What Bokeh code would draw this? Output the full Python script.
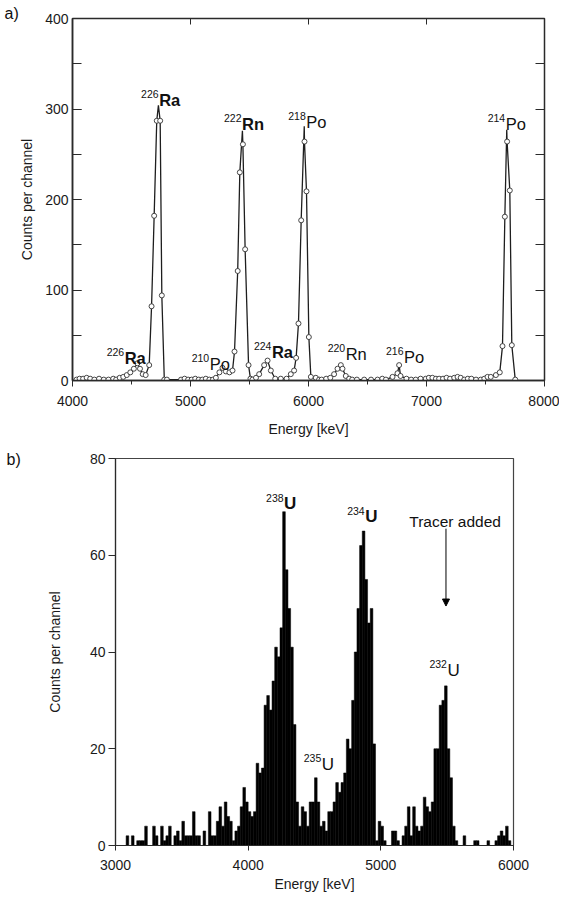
from bokeh.plotting import figure
from bokeh.layouts import column, row
from bokeh.models import (LinearAxis, Range1d, SingleIntervalTicker,
                          Arrow, NormalHead, ColumnDataSource)
from bokeh.core.properties import value
from bokeh.embed import file_html
from bokeh.resources import INLINE

FONT = "Liberation Sans"
DARK = "#2a2a2a"

# ---------------- panel a data : radon/radium alpha spectrum ----------------
a_energy = [4034, 4060, 4090, 4120, 4150, 4185, 4225, 4265, 4305, 4345,
            4370, 4400, 4430, 4460, 4490, 4520, 4550, 4572, 4595, 4620,
            4650, 4670, 4692, 4714, 4743, 4757, 4778, 4800, 4920, 4950,
            4980, 5010, 5040, 5070, 5100, 5130, 5160, 5190, 5215, 5245,
            5271, 5300, 5330, 5356, 5373, 5400, 5418, 5444, 5463, 5492,
            5508, 5525, 5555, 5582, 5624, 5653, 5681, 5718, 5765, 5814,
            5850, 5878, 5895, 5915, 5938, 5966, 5983, 6003, 6020, 6062,
            6090, 6111, 6150, 6185, 6217, 6246, 6274, 6288, 6316, 6345,
            6370, 6410, 6472, 6530, 6585, 6625, 6656, 6712, 6754, 6768,
            6780, 6830, 6870, 6909, 6950, 6994, 7020, 7050, 7080, 7107,
            7140, 7170, 7200, 7235, 7263, 7290, 7320, 7350, 7380, 7420,
            7460, 7490, 7517, 7545, 7588, 7621, 7644, 7664, 7683, 7706,
            7723, 7752]
a_counts = [1, 2, 2, 3, 2, 1, 2, 1, 1, 2,
            1, 3, 4, 6, 9, 13, 19, 13, 7, 6,
            17, 82, 182, 287, 287, 94, 1, 1, 1, 2,
            1, 1, 2, 1, 1, 2, 1, 1, 3, 9,
            14, 10, 9, 11, 32, 121, 230, 261, 145, 17,
            2, 1, 3, 7, 17, 22, 11, 2, 2, 2,
            7, 11, 25, 63, 177, 264, 209, 48, 4, 3,
            1, 1, 2, 3, 7, 13, 17, 13, 5, 2,
            1, 1, 1, 1, 1, 2, 1, 4, 8, 17,
            5, 2, 1, 1, 2, 2, 3, 3, 2, 2,
            2, 3, 2, 3, 4, 3, 1, 2, 2, 1,
            1, 2, 4, 4, 6, 9, 38, 181, 264, 210,
            39, 1]
# tips of the drawn curve over the four main peaks
a_peak_energy = [4728, 5440, 5964, 7680]
a_peak_top = [304, 276, 281, 277]

a_iso = ["226", "222", "218", "214", "226", "210", "224", "220", "216"]
a_elem = ["Ra", "Rn", "Po", "Po", "Ra", "Po", "Ra", "Rn", "Po"]
a_lab_x = [4730, 5432, 5977, 7667, 4438, 5158, 5686, 6311, 6805]
a_lab_y = [310, 283, 286, 283, 25, 18, 31, 29, 26.5]
a_lab_style = ["bold", "bold", "normal", "normal", "bold", "normal", "bold", "normal", "normal"]

# ---------------- panel b data : uranium alpha spectrum (20 keV channels) ----------------
b_bin_width = 20
b_counts = [0, 0, 0, 0, 2, 0, 2, 0, 1, 1,
            1, 4, 0, 0, 4, 2, 0, 4, 1, 2,
            4, 0, 2, 3, 1, 5, 2, 2, 2, 7,
            2, 2, 0, 3, 0, 7, 2, 2, 5, 8,
            4, 9, 6, 5, 1, 3, 4, 8, 12, 9,
            7, 6, 7, 17, 15, 16, 29, 31, 28, 34,
            41, 39, 45, 69, 57, 49, 41, 25, 9, 4,
            8, 7, 4, 9, 9, 14, 9, 4, 5, 3,
            7, 7, 9, 13, 11, 13, 15, 22, 20, 30,
            40, 49, 62, 65, 55, 46, 49, 21, 1, 5,
            4, 1, 0, 0, 3, 3, 1, 0, 2, 4,
            8, 2, 8, 4, 3, 4, 10, 8, 7, 9,
            20, 20, 29, 30, 33, 20, 14, 4, 1, 0,
            0, 2, 0, 0, 0, 1, 1, 0, 0, 0,
            1, 0, 0, 1, 2, 3, 2, 4, 1, 0]
b_bin_left = list(range(3000, 3000 + b_bin_width * len(b_counts), b_bin_width))

b_iso = ["238", "234", "235", "232"]
b_elem = ["U", "U", "U", "U"]
b_lab_x = [4267, 4878, 4551, 5498]
b_lab_y = [70.6, 68, 16.8, 36.2]
b_lab_style = ["bold", "bold", "normal", "normal"]

tracer_text = ["Tracer added"]
tracer_x = [5560]
tracer_y = [67]
arrow_x = [5491]
arrow_y0 = [65.5]
arrow_y1 = [49.5]


def style_axis(ax):
    ax.axis_line_color = DARK
    ax.major_tick_line_color = DARK
    ax.minor_tick_line_color = DARK
    ax.major_label_text_font = FONT
    ax.major_label_text_font_size = "14px"
    ax.major_label_text_color = "#1a1a1a"
    ax.axis_label_text_font = FONT
    ax.axis_label_text_font_size = "14px"
    ax.axis_label_text_font_style = "normal"
    ax.axis_label_text_color = "#1a1a1a"


def hidden_axis(ax):
    # tick marks only: labels are not drawn at all
    ax.major_label_text_font_size = "1px"
    ax.major_label_text_color = None
    ax.major_label_standoff = 0
    ax.axis_line_color = DARK
    ax.major_tick_line_color = DARK
    ax.minor_tick_line_color = None
    ax.major_tick_out = 0


def add_iso_labels(p, xs, ys, isos, elems, styles, size_el, size_iso, raise_px):
    src = ColumnDataSource(dict(x=xs, y=ys, iso=isos, el=elems, st=styles))
    p.text(x="x", y="y", text="el", source=src, text_font=value(FONT),
           text_font_size=size_el, text_font_style="st", text_align="left",
           text_baseline="alphabetic", text_color="#111111", x_offset=0.5)
    p.text(x="x", y="y", text="iso", source=src, text_font=value(FONT),
           text_font_size=size_iso, text_font_style="normal", text_align="right",
           text_baseline="alphabetic", text_color="#111111", y_offset=-raise_px)


def panel_title(p, text, offset, standoff):
    p.title.text = text
    p.title.align = "left"
    p.title.offset = offset
    try:
        p.title.standoff = standoff
    except Exception:
        p.title.standoff = 0
    p.title.text_font = FONT
    p.title.text_font_size = "16px"
    p.title.text_font_style = "normal"
    p.title.text_color = "#111111"


# ================= panel a =================
pa = figure(width=559, height=442, x_range=Range1d(4000, 8000), y_range=Range1d(0, 400),
            output_backend="svg", toolbar_location=None,
            min_border_left=72, min_border_right=15, min_border_top=18, min_border_bottom=62)
pa.xgrid.visible = False
pa.ygrid.visible = False
pa.outline_line_color = DARK
pa.outline_line_width = 1.5
panel_title(pa, "a)", -68, -6)

xa = pa.xaxis[0]
xa.ticker = SingleIntervalTicker(interval=1000, num_minor_ticks=2)
style_axis(xa)
xa.axis_line_width = 1.5
xa.major_tick_in = 0
xa.major_tick_out = 6
xa.minor_tick_in = 0
xa.minor_tick_out = 4
xa.major_label_standoff = 9
xa.axis_label = "Energy [keV]"
xa.axis_label_standoff = 12

ya = pa.yaxis[0]
ya.ticker = SingleIntervalTicker(interval=100, num_minor_ticks=2)
style_axis(ya)
ya.axis_line_width = 1.5
ya.major_tick_in = 9
ya.major_tick_out = 0
ya.minor_tick_in = 9
ya.minor_tick_out = 0
ya.major_label_standoff = 4
ya.axis_label = "Counts per channel"
ya.axis_label_standoff = 7

top_a = LinearAxis(ticker=SingleIntervalTicker(interval=1000, num_minor_ticks=0))
hidden_axis(top_a)
top_a.major_tick_in = 6
pa.add_layout(top_a, "above")

right_a = LinearAxis(ticker=SingleIntervalTicker(interval=50, num_minor_ticks=0))
hidden_axis(right_a)
right_a.major_tick_in = 9
pa.add_layout(right_a, "right")

line_pts = sorted(zip(a_energy + a_peak_energy, a_counts + a_peak_top))
pa.line([e for e, c in line_pts], [c for e, c in line_pts], line_color="#1e1e1e", line_width=1.3)
pa.scatter(a_energy, a_counts, marker="circle", size=5, fill_color="white",
           line_color="#333333", line_width=0.9)

add_iso_labels(pa, a_lab_x, a_lab_y, a_iso, a_elem, a_lab_style, "16.5px", "10.5px", 6)

# ================= panel b =================
pb = figure(width=559, height=453, x_range=Range1d(3000, 6000), y_range=Range1d(0, 80),
            output_backend="svg", toolbar_location=None,
            min_border_left=115, min_border_right=46, min_border_top=16, min_border_bottom=50)
pb.xgrid.visible = False
pb.ygrid.visible = False
pb.outline_line_color = "#444444"
pb.outline_line_width = 1.2
panel_title(pb, "b)", -109, -18)

b_src = ColumnDataSource(dict(left=b_bin_left, right=[l + b_bin_width for l in b_bin_left],
                              top=b_counts, bottom=[0] * len(b_counts)))
pb.quad(left="left", right="right", top="top", bottom="bottom", source=b_src,
        fill_color="black", line_color="black", line_width=0.5)

xb = pb.xaxis[0]
xb.ticker = SingleIntervalTicker(interval=1000, num_minor_ticks=0)
style_axis(xb)
xb.axis_line_width = 1.2
xb.major_tick_in = 0
xb.major_tick_out = 5
xb.minor_tick_line_color = None
xb.major_label_standoff = 9
xb.axis_label = "Energy [keV]"
xb.axis_label_standoff = 3

yb = pb.yaxis[0]
yb.ticker = SingleIntervalTicker(interval=20, num_minor_ticks=0)
style_axis(yb)
yb.axis_line_width = 1.2
yb.major_tick_in = 0
yb.major_tick_out = 7
yb.minor_tick_line_color = None
yb.major_label_standoff = 3
yb.axis_label = "Counts per channel"
yb.axis_label_standoff = 24

add_iso_labels(pb, b_lab_x, b_lab_y, b_iso, b_elem, b_lab_style, "17px", "10.5px", 6)

t_src = ColumnDataSource(dict(x=tracer_x, y=tracer_y, t=tracer_text))
pb.text(x="x", y="y", text="t", source=t_src, text_font=value(FONT), text_font_size="15.5px",
        text_align="center", text_baseline="alphabetic", text_color="#111111")

a_src = ColumnDataSource(dict(x0=arrow_x, y0=arrow_y0, x1=arrow_x, y1=arrow_y1))
pb.add_layout(Arrow(end=NormalHead(size=7, fill_color="black", line_color="black"),
                    x_start="x0", y_start="y0", x_end="x1", y_end="y1", source=a_src,
                    line_color="black", line_width=1))

layout = column(row(pa), row(pb), spacing=0)
open("out.html", "w").write(file_html(layout, INLINE))
